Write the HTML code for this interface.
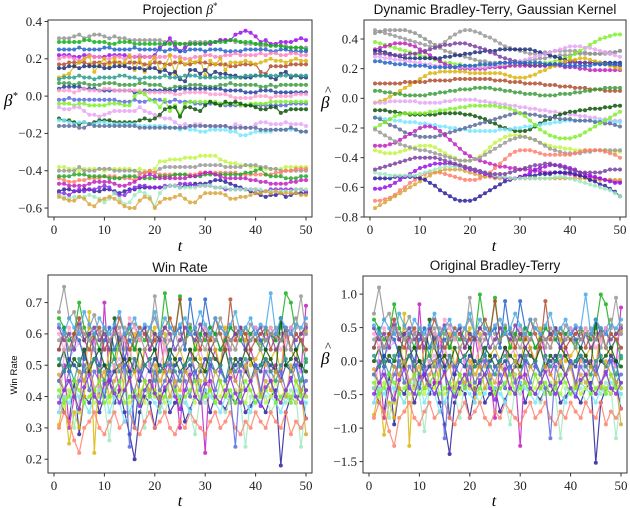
<!DOCTYPE html>
<html><head><meta charset="utf-8">
<style>
body{margin:0;background:#fff;}
svg{display:block;font-family:"Liberation Serif",serif;}
.t{font-family:"Liberation Sans",sans-serif;font-size:13.5px;fill:#111;}
.tk{font-family:"Liberation Serif",serif;font-size:13px;fill:#222;}
.sr{font-family:"Liberation Serif",serif;}
</style></head>
<body>
<svg id="fig" width="630" height="508" viewBox="0 0 630 508">
<text class="t" x="180" y="14" text-anchor="middle">Projection  <tspan class="sr" font-style="italic">β</tspan><tspan class="sr" font-size="9" dy="-5">*</tspan></text>
<text class="t" x="495" y="14" text-anchor="middle">Dynamic Bradley-Terry, Gaussian Kernel</text>
<text class="t" x="180" y="272" text-anchor="middle">Win Rate</text>
<text class="t" x="495" y="270" text-anchor="middle">Original Bradley-Terry</text>
<text class="sr" x="180" y="251" font-size="16" font-style="italic" text-anchor="middle">t</text>
<text class="sr" x="494" y="251" font-size="16" font-style="italic" text-anchor="middle">t</text>
<text class="sr" x="180" y="506" font-size="16" font-style="italic" text-anchor="middle">t</text>
<text class="sr" x="494" y="506" font-size="16" font-style="italic" text-anchor="middle">t</text>
<text class="sr" x="4" y="106" font-size="17" font-style="italic">β<tspan font-size="10" dy="-7">*</tspan></text>
<g><text class="sr" x="321" y="108" font-size="17" font-style="italic">β</text><text class="sr" x="325" y="95" font-size="13">^</text></g>
<g><text class="sr" x="321" y="364" font-size="17" font-style="italic">β</text><text class="sr" x="325" y="351" font-size="13">^</text></g>
<text transform="translate(17,375) rotate(-90)" font-family="Liberation Sans" font-size="9.5" text-anchor="middle">Win Rate</text>
</svg>
<script>
const tValues=[];for(let i=1;i<=50;i++)tValues.push(i);
const colors=["#929591","#9a0eea","#15b01a","#1f63c9","#ff81c0","#b04e2f","#dbb40c","#1c2f7a","#2a9d8f","#3c9d3c","#2340a0","#ff9ecf","#5a6be0","#7ef02a","#e6a6f5","#0b5509","#75e6ff","#5b6b9a","#c4f542","#9a9a9a","#ff7f6a","#27a62b","#c020c0","#2a1f9e","#8a2be2","#9fe8c0","#d9a53a","#7a3fa0","#48a8e8","#a0c080"];
const projSeries=[
[31,31,31,32,33,31,32,33,33,32,31,32,31,31,30,30,30,30,30,30,30,29,29,29,28,28,29,29,29,29,29,29,30,30,30,29,29,28,28,28,27,27,27,27,27,27,26,26,26,26],
[22,22,22,21,21,22,22,21,21,21,22,22,22,22,21,21,21,21,21,22,26,28,31,27,24,26,28,28,28,28,28,29,30,30,30,33,34,35,34,32,29,30,28,28,29,29,29,30,31,30],
[29,29,29,29,29,30,30,29,29,29,28,28,29,29,29,28,28,28,28,28,28,28,28,28,28,28,28,28,28,28,29,29,29,29,30,30,29,29,29,28,28,28,27,27,27,26,26,26,26,25],
[25,25,25,25,26,25,25,25,25,26,26,25,25,25,25,26,25,25,25,25,25,24,25,25,24,24,25,25,25,24,25,25,25,24,24,24,24,25,25,25,25,25,24,24,25,25,24,24,24,24],
[20,21,21,20,19,20,22,21,21,20,20,21,21,20,21,21,22,21,21,20,21,21,22,21,21,20,20,21,21,22,22,21,21,22,22,23,22,22,22,22,23,22,23,23,22,22,23,23,22,22],
[17,17,18,18,18,18,17,18,18,17,18,18,18,17,18,18,18,17,17,18,18,17,17,18,18,17,17,18,18,18,17,17,17,17,16,16,17,17,17,17,13,12,16,16,16,16,17,17,17,17],
[10,11,12,16,18,20,21,13,17,20,16,20,17,18,22,14,20,13,18,21,14,16,22,12,20,17,19,18,20,11,19,17,20,14,18,18,18,19,18,17,18,19,20,19,19,18,19,20,19,19],
[15,15,16,16,15,16,16,16,16,15,15,16,16,16,15,15,15,14,15,15,13,14,12,13,9,8,14,14,12,14,11,13,12,12,11,11,10,10,10,11,11,11,10,9,12,13,10,11,10,10],
[9,10,10,10,11,10,10,9,10,10,10,10,11,11,10,10,9,10,10,10,10,11,10,10,10,11,11,11,10,10,10,10,10,10,10,10,10,11,11,11,11,11,11,11,11,11,11,11,11,11],
[7,7,7,6,7,7,6,6,6,7,7,7,6,6,6,6,7,7,6,6,6,4,4,5,5,5,6,6,6,5,5,5,6,6,7,6,6,6,6,6,5,5,6,5,6,6,6,6,6,6],
[4,5,5,5,5,4,4,4,3,3,3,3,3,3,3,2,2,3,3,3,3,3,3,3,4,4,4,4,4,4,4,4,4,3,3,3,3,2,2,2,3,3,3,2,2,2,2,2,2,2],
[3,3,3,2,3,4,3,3,3,4,4,3,3,3,3,3,3,2,2,2,2,2,2,1,1,2,2,2,2,2,1,1,1,1,0,-1,-1,-1,-1,0,0,0,-1,0,0,0,0,1,1,1],
[-2,-2,-1,-2,-2,-2,-2,-2,-2,-2,-2,-2,-3,-3,-3,-2,-3,-3,-2,-2,-2,-3,-3,-2,-3,-3,-3,-4,-4,-4,-4,-4,-4,-5,-5,-5,-5,-5,-5,-5,-5,-5,-5,-5,-5,-5,-4,-4,-4,-4],
[-4,-4,-4,-5,-4,-4,-5,-5,-5,-5,-4,-4,-4,-5,-5,0,2,1,-2,-3,-6,-2,-8,-5,-10,-4,-3,-3,-3,-3,-3,-3,-4,-4,-4,-4,-5,-5,-4,-4,-4,-4,-3,-3,-3,-3,-3,-3,-3,-3],
[-6,-7,-7,-6,-6,-8,-10,-10,-11,-10,-9,-8,-8,-8,-8,-8,-6,-8,-9,-10,-11,-12,-12,-14,-16,-15,-16,-15,-15,-16,-16,-17,-16,-16,-17,-15,-16,-17,-17,-15,-14,-14,-15,-15,-15,-14,-15,-15,-15,-16],
[-12,-13,-13,-14,-15,-14,-15,-14,-13,-13,-13,-14,-14,-14,-14,-14,-13,-12,-13,-12,-10,-7,-6,-6,-11,-6,-6,-7,-8,-5,-3,-4,-5,-3,-4,-3,-4,-5,-5,-6,-7,-7,-6,-6,-9,-8,-7,-7,-7,-7],
[-13,-13,-14,-15,-14,-14,-15,-15,-14,-14,-15,-15,-15,-15,-15,-15,-16,-16,-16,-16,-16,-16,-17,-17,-18,-17,-18,-18,-19,-19,-18,-18,-18,-18,-19,-19,-21,-21,-20,-19,-19,-19,-19,-18,-18,-18,-18,-18,-19,-19],
[-16,-16,-16,-16,-17,-17,-15,-16,-16,-16,-16,-16,-16,-16,-16,-16,-17,-17,-17,-17,-17,-17,-17,-17,-17,-17,-16,-16,-16,-16,-16,-16,-16,-16,-17,-17,-17,-17,-17,-17,-18,-18,-18,-18,-18,-18,-17,-18,-19,-19],
[-38,-38,-39,-39,-40,-39,-39,-39,-39,-40,-39,-39,-39,-39,-39,-40,-39,-40,-40,-39,-35,-35,-34,-34,-34,-33,-33,-33,-32,-32,-32,-32,-34,-35,-36,-36,-37,-37,-38,-38,-39,-39,-39,-39,-39,-38,-38,-38,-38,-38],
[-40,-40,-40,-40,-38,-40,-40,-40,-39,-39,-39,-40,-40,-40,-40,-40,-41,-41,-41,-41,-39,-38,-38,-38,-38,-38,-38,-38,-37,-37,-37,-37,-37,-38,-38,-38,-38,-37,-37,-37,-38,-38,-39,-39,-40,-40,-40,-40,-40,-40],
[-44,-45,-46,-46,-45,-45,-44,-44,-44,-43,-43,-43,-44,-44,-44,-45,-42,-41,-40,-41,-42,-42,-42,-42,-42,-42,-42,-42,-41,-41,-41,-41,-41,-41,-41,-41,-42,-42,-42,-42,-42,-42,-42,-41,-41,-40,-40,-39,-39,-39],
[-43,-43,-43,-42,-42,-42,-43,-43,-43,-43,-44,-44,-44,-43,-43,-43,-44,-44,-44,-44,-43,-43,-43,-42,-42,-42,-43,-43,-43,-42,-42,-42,-42,-42,-42,-42,-42,-41,-41,-40,-39,-42,-43,-43,-43,-44,-44,-44,-43,-43],
[-47,-47,-48,-48,-48,-48,-47,-46,-46,-46,-46,-47,-48,-48,-47,-46,-44,-43,-42,-43,-44,-44,-44,-44,-44,-44,-43,-43,-42,-41,-41,-42,-43,-44,-44,-44,-44,-44,-45,-45,-46,-46,-47,-47,-47,-47,-46,-46,-45,-45],
[-51,-50,-50,-51,-51,-50,-50,-51,-51,-50,-50,-51,-52,-51,-50,-50,-49,-49,-49,-49,-49,-49,-48,-48,-49,-48,-48,-47,-47,-47,-46,-45,-45,-46,-47,-48,-49,-50,-51,-52,-53,-54,-53,-53,-52,-54,-53,-52,-52,-52],
[-52,-52,-53,-51,-50,-51,-50,-50,-49,-48,-49,-52,-53,-53,-51,-49,-48,-48,-49,-49,-49,-48,-48,-48,-47,-47,-47,-48,-48,-48,-48,-49,-49,-50,-50,-50,-50,-50,-50,-50,-51,-51,-50,-50,-50,-50,-50,-50,-50,-51],
[-53,-54,-55,-54,-54,-54,-53,-54,-55,-57,-55,-52,-55,-58,-57,-53,-51,-52,-54,-59,-52,-49,-48,-48,-49,-49,-49,-49,-48,-48,-48,-49,-49,-49,-50,-50,-50,-50,-50,-50,-50,-51,-51,-51,-51,-51,-51,-50,-50,-50],
[-54,-55,-56,-56,-54,-55,-58,-59,-56,-55,-54,-55,-57,-59,-60,-60,-56,-54,-55,-60,-57,-55,-55,-54,-53,-55,-57,-57,-54,-52,-52,-52,-52,-53,-55,-55,-54,-54,-53,-52,-52,-51,-52,-51,-52,-52,-52,-52,-53,-53]
];
const projColors=[0,1,2,3,4,5,6,7,8,9,10,11,12,13,14,15,16,17,18,19,20,21,22,23,24,25,26];
const dbtSeries=[
[46,45,44,43,42,41,40,39,38,37,36,35,35,36,38,41,43,45,46,46,45,44,42,41,39,37,35,34,33,32,31,30,30,30,31,31,32,32,32,32,32,31,31,30,30,30,30,30,31,32],
[44,45,46,46,46,46,46,45,44,42,40,38,36,34,32,31,30,29,28,27,26,25,25,24,24,24,24,24,25,25,25,26,26,27,27,28,28,29,29,29,30,30,30,30,30,30,31,31,31,32],
[38,37,36,35,34,33,32,31,30,29,28,27,26,25,24,24,23,23,22,22,22,22,22,22,22,22,22,22,23,23,23,23,23,23,24,24,25,26,27,28,30,32,34,36,38,40,41,42,43,43],
[33,34,35,36,37,37,37,36,35,33,31,29,27,25,23,22,21,20,20,20,20,20,20,21,21,21,21,22,22,22,22,22,22,22,22,22,22,22,21,21,21,20,20,19,19,19,19,19,19,19],
[32,32,31,30,29,28,27,27,27,27,27,27,27,27,28,28,29,29,30,30,31,31,32,32,32,33,33,33,33,33,33,33,32,31,30,29,28,27,26,25,25,24,24,24,24,24,24,24,24,24],
[30,30,30,29,29,29,29,30,30,31,32,33,34,35,36,36,37,37,37,36,35,34,33,31,30,28,27,26,25,24,23,22,22,22,22,23,23,23,24,24,24,24,24,24,24,23,23,23,22,22],
[28,28,27,27,26,26,25,25,24,24,23,23,22,22,21,21,21,21,21,21,21,21,21,22,22,23,23,24,24,25,26,27,28,29,30,31,32,33,34,35,35,35,34,34,33,32,31,30,29,28],
[-3,-2,-1,1,3,5,7,9,11,13,15,17,17,18,18,18,18,18,18,17,17,17,17,17,17,17,16,15,14,14,14,15,16,18,19,21,22,24,25,26,26,27,27,26,25,24,23,22,21,20],
[25,25,24,24,23,23,23,22,22,22,22,21,21,21,21,21,21,22,22,22,22,23,23,23,23,24,24,24,24,24,24,24,24,24,23,23,23,23,22,22,22,22,22,22,23,23,23,23,23,23],
[10,10,10,10,10,10,11,11,11,11,11,12,12,12,12,12,13,13,13,13,13,13,13,13,12,12,12,11,11,11,10,10,10,10,9,9,9,8,8,8,7,7,7,6,6,6,5,5,5,5],
[5,5,4,4,3,3,2,2,2,2,2,3,3,4,4,5,5,6,6,6,7,7,7,7,6,6,5,5,4,4,3,3,3,2,2,2,2,3,3,3,4,4,5,5,6,6,7,7,7,7],
[-3,-3,-3,-2,-2,-2,-2,-2,-2,-3,-3,-3,-3,-3,-2,-2,-1,-1,-1,-1,-1,-2,-2,-3,-3,-4,-4,-5,-5,-6,-6,-7,-7,-8,-8,-9,-9,-10,-10,-11,-11,-12,-12,-13,-13,-14,-14,-15,-15,-15],
[-8,-8,-8,-9,-9,-10,-10,-11,-11,-11,-11,-11,-11,-10,-10,-10,-10,-10,-11,-11,-12,-13,-14,-16,-17,-19,-20,-21,-22,-22,-22,-21,-19,-17,-15,-14,-12,-11,-10,-9,-9,-8,-8,-7,-7,-7,-6,-6,-5,-5],
[-13,-13,-14,-14,-15,-15,-16,-16,-16,-17,-17,-18,-18,-19,-19,-20,-20,-21,-21,-22,-22,-22,-22,-22,-22,-21,-21,-21,-20,-20,-19,-19,-18,-18,-17,-17,-16,-16,-15,-15,-15,-15,-15,-15,-15,-15,-15,-16,-16,-16],
[-13,-14,-16,-18,-19,-21,-23,-24,-25,-26,-26,-26,-26,-25,-24,-23,-22,-21,-20,-19,-18,-17,-16,-15,-14,-13,-12,-11,-10,-10,-10,-11,-11,-12,-12,-13,-13,-14,-14,-14,-15,-15,-15,-15,-16,-16,-17,-17,-18,-19],
[-32,-32,-32,-31,-30,-28,-26,-24,-22,-20,-19,-19,-20,-22,-25,-28,-31,-34,-37,-39,-41,-42,-43,-44,-45,-46,-46,-47,-47,-48,-48,-48,-49,-49,-50,-50,-50,-50,-51,-51,-52,-52,-53,-53,-54,-54,-55,-55,-56,-56],
[-20,-18,-16,-14,-12,-11,-10,-10,-10,-10,-10,-9,-9,-8,-8,-7,-7,-6,-6,-5,-5,-5,-5,-5,-5,-6,-6,-7,-8,-10,-12,-15,-18,-21,-23,-25,-26,-27,-27,-27,-26,-25,-23,-21,-19,-17,-15,-13,-11,-9],
[-35,-36,-37,-37,-37,-36,-35,-34,-33,-32,-32,-32,-33,-35,-37,-39,-40,-42,-42,-42,-41,-39,-36,-33,-30,-28,-26,-25,-25,-25,-26,-27,-28,-30,-31,-32,-33,-33,-34,-34,-35,-35,-35,-35,-35,-35,-35,-36,-36,-36],
[-21,-23,-25,-27,-29,-31,-32,-33,-34,-35,-35,-36,-37,-38,-39,-40,-41,-42,-42,-42,-41,-40,-38,-36,-34,-32,-30,-28,-27,-26,-26,-27,-28,-30,-32,-34,-35,-36,-37,-37,-37,-37,-36,-36,-35,-35,-35,-35,-35,-35],
[-69,-69,-68,-67,-65,-62,-60,-57,-55,-53,-51,-50,-50,-50,-51,-52,-53,-54,-55,-55,-55,-54,-52,-50,-47,-44,-41,-38,-36,-35,-35,-35,-36,-37,-38,-38,-38,-38,-38,-38,-37,-36,-35,-35,-35,-35,-36,-37,-38,-40],
[-74,-72,-70,-68,-66,-64,-62,-60,-58,-56,-54,-52,-50,-49,-48,-48,-48,-48,-49,-50,-51,-52,-53,-53,-54,-54,-54,-54,-54,-54,-54,-54,-54,-54,-54,-54,-54,-54,-54,-54,-54,-54,-54,-55,-55,-55,-55,-55,-55,-55],
[-54,-54,-54,-54,-53,-53,-53,-53,-53,-54,-55,-57,-59,-62,-64,-66,-68,-69,-69,-69,-68,-66,-64,-62,-60,-58,-56,-55,-54,-53,-52,-52,-52,-51,-51,-51,-50,-50,-50,-50,-51,-52,-53,-55,-56,-58,-59,-61,-63,-66],
[-61,-61,-60,-59,-57,-55,-53,-51,-49,-47,-46,-45,-44,-44,-44,-44,-45,-46,-47,-48,-49,-50,-51,-52,-53,-53,-54,-54,-54,-53,-52,-50,-48,-47,-46,-45,-45,-45,-46,-47,-48,-50,-51,-52,-53,-54,-55,-56,-57,-57],
[-50,-51,-51,-52,-52,-52,-52,-52,-52,-51,-50,-49,-48,-47,-46,-46,-46,-46,-46,-47,-48,-49,-50,-51,-52,-53,-53,-54,-54,-54,-54,-54,-54,-54,-54,-54,-53,-53,-53,-54,-55,-56,-57,-58,-59,-60,-61,-62,-64,-66],
[-48,-47,-46,-45,-44,-43,-42,-41,-40,-40,-40,-40,-40,-41,-42,-43,-44,-45,-46,-47,-48,-49,-50,-51,-51,-51,-51,-50,-49,-48,-47,-46,-45,-45,-44,-44,-45,-46,-47,-48,-49,-50,-50,-50,-50,-50,-49,-48,-48,-48]
];
const dbtColors=[19,0,13,22,7,27,14,6,3,5,9,14,15,16,17,22,13,18,19,20,26,23,1,25,27];
const winRateSeries=[
[67,75,65,67,60,58,62,66,60,55,58,60,62,55,60,63,58,60,62,65,60,55,58,62,60,57,63,55,60,62,58,60,65,60,55,62,60,58,63,60,57,60,62,58,60,55,62,65,60,63],
[40,35,32,45,28,40,38,42,35,40,45,38,42,35,28,20,35,40,38,30,40,42,35,38,40,32,36,40,38,42,35,40,38,36,40,38,42,35,37,40,38,35,40,42,18,35,40,38,42,33],
[45,50,30,40,35,55,48,60,40,70,45,50,42,60,48,52,45,55,50,40,60,48,52,45,30,50,55,48,45,22,50,55,48,60,52,45,50,48,55,50,40,52,48,50,45,60,55,52,48,69],
[31,40,25,35,30,40,67,22,50,45,55,48,58,45,52,60,48,55,58,62,35,60,48,52,55,50,45,58,52,48,60,55,50,62,58,55,60,58,50,52,55,50,52,55,48,62,55,52,60,61],
[35,53,52,55,57,55,50,43,43,43,45,50,52,48,55,50,48,45,50,52,50,55,50,48,45,50,48,52,55,50,52,48,50,45,50,48,52,50,45,47,50,52,45,48,50,52,48,50,48,55],
[55,62,50,60,58,52,60,55,50,58,62,55,60,52,58,55,60,62,58,55,60,58,52,60,62,55,71,60,58,71,62,60,55,58,62,60,58,55,60,62,58,55,60,58,65,60,62,55,58,60],
[65,62,58,60,70,62,58,60,55,62,58,52,60,58,62,55,60,58,62,60,58,73,62,60,72,58,62,55,60,58,62,60,55,58,62,60,58,62,60,58,55,62,60,58,62,73,70,60,58,51],
[45,48,52,50,48,45,50,52,48,50,45,48,50,52,48,30,45,50,48,52,50,48,45,50,52,48,50,45,48,52,50,48,50,45,48,50,52,48,45,50,48,52,50,48,45,50,48,52,50,40],
[40,38,42,30,40,38,35,40,42,38,26,40,38,42,35,40,38,30,42,40,38,35,40,42,38,40,35,28,40,38,42,40,38,35,40,42,38,24,40,38,42,40,35,38,40,38,42,40,24,38],
[30,35,32,26,22,30,32,35,30,28,32,35,30,32,35,30,28,32,35,30,32,35,30,28,32,30,35,32,30,28,32,35,30,32,35,30,28,32,30,35,32,30,35,32,30,35,28,32,30,33],
[50,55,48,52,50,55,48,52,55,50,48,65,55,50,52,48,55,50,52,55,48,50,55,52,48,50,55,52,50,48,55,52,50,55,48,52,50,55,52,48,50,55,52,48,65,50,52,55,50,48],
[60,55,62,58,65,60,58,62,60,55,58,62,60,58,65,62,58,60,62,58,60,55,62,60,58,62,60,58,55,62,60,58,62,60,58,55,62,60,58,62,60,58,62,60,55,58,62,60,58,60],
[35,40,38,42,40,38,35,40,38,42,35,40,38,32,35,40,38,42,40,38,35,40,38,42,40,38,35,40,38,42,40,38,35,40,38,42,40,38,35,40,38,42,40,38,35,40,38,42,40,38],
[45,37,42,40,35,45,42,38,40,45,38,42,40,45,38,40,42,38,45,40,42,38,40,45,38,42,40,38,45,40,42,38,40,45,38,42,40,38,45,40,42,38,40,45,38,42,40,38,45,40],
[55,60,55,60,65,58,55,60,62,55,58,60,65,60,55,58,62,60,55,58,60,62,65,60,71,58,60,62,55,60,58,65,60,55,71,58,62,60,55,58,60,62,55,60,58,62,55,60,58,55],
[62,58,60,55,63,58,60,62,58,60,55,62,58,60,63,58,60,62,55,60,58,62,60,55,58,62,60,58,63,60,55,58,62,60,58,60,62,55,58,60,62,58,60,55,58,62,60,58,60,62],
[52,48,50,45,52,48,50,52,48,45,50,52,48,50,45,52,48,50,52,45,48,50,52,48,45,50,52,48,50,45,52,48,50,45,52,48,50,52,45,48,50,52,48,45,50,52,48,50,45,52],
[45,42,48,40,45,50,42,48,45,40,48,42,45,50,24,42,48,45,40,48,42,45,50,42,48,45,40,48,42,45,50,42,48,45,40,24,48,42,45,50,42,48,45,40,48,42,45,50,42,45],
[58,60,55,58,62,60,58,55,60,62,58,60,55,62,60,58,60,55,58,72,60,58,62,60,55,58,60,62,58,55,60,58,62,60,58,55,60,62,58,60,55,58,60,62,58,60,55,62,72,60],
[47,42,45,40,48,45,50,42,45,48,40,45,50,42,45,48,40,45,42,50,45,48,40,45,42,48,45,40,50,45,42,48,45,40,48,45,42,50,45,48,40,45,42,48,45,40,50,45,42,28],
[42,38,40,45,42,38,40,42,45,38,40,42,45,38,40,42,38,45,40,42,38,40,45,42,38,40,42,45,38,40,42,38,45,40,42,38,40,45,42,38,40,42,45,38,40,42,38,45,40,42],
[38,42,45,40,36,43,47,40,38,44,45,41,38,42,46,40,37,42,45,41,38,43,45,40,36,42,47,40,38,44,45,40,38,42,46,41,38,42,45,40,37,43,45,40,38,42,46,40,38,42],
[63,60,65,62,60,67,63,60,65,62,60,63,67,60,62,65,60,63,62,67,60,65,62,60,63,65,60,62,67,63,60,65,62,60,63,67,60,62,65,60,63,62,73,60,65,62,60,63,62,65]
];
const winColors=[0,23,22,6,14,3,2,10,25,20,15,11,16,18,5,27,8,12,19,26,13,24,28];
const tlTicks=[0.4,0.2,0.0,-0.2,-0.4,-0.6];
const trTicks=[0.4,0.2,0.0,-0.2,-0.4,-0.6,-0.8];
const blTicks=[0.7,0.6,0.5,0.4,0.3,0.2];
const brTicks=[1.0,0.5,0.0,-0.5,-1.0,-1.5];
const xTicks=[0,10,20,30,40,50];

const NS="http://www.w3.org/2000/svg";
const svg=document.getElementById('fig');
function mk(tag,attrs,parent){const e=document.createElementNS(NS,tag);for(const k in attrs)e.setAttribute(k,attrs[k]);(parent||svg).appendChild(e);return e;}
function fmt(v,d){const s=Math.abs(v).toFixed(d);return (v<-1e-9?'\u2212':'')+s;}
function panel(name,box,yDom,yTicks,dec,series,cIdx,tf){
  const [L,T,R,B]=box;
  const xs=t=>L+6+t*(R-L-12)/50;
  const ys=v=>T+(yDom[0]-v)/(yDom[0]-yDom[1])*(B-T);
  const g=mk('g',{});
  
  
  const cp=mk('clipPath',{id:name+'-clip'},g);mk('rect',{x:L,y:T,width:R-L,height:B-T},cp);
  const plot=mk('g',{'clip-path':'url(#'+name+'-clip)'},g);
  series.forEach((s,i)=>{
    const col=colors[cIdx[i]%colors.length];
    const sg=mk('g',{opacity:0.85},plot);
    
    
    const pts=s.map((v,j)=>[xs(tValues[j]),ys(tf(v))]);
    mk('polyline',{points:pts.map(p=>p[0].toFixed(1)+','+p[1].toFixed(1)).join(' '),fill:'none',stroke:col,'stroke-width':1.2},sg);
    pts.forEach(p=>{const c=mk('circle',{cx:p[0].toFixed(1),cy:p[1].toFixed(1),r:2,fill:col},sg);
      
      });
  });
  const fr=mk('rect',{x:L,y:T,width:R-L,height:B-T,fill:'none',stroke:'#333','stroke-width':1},g);
  
  
  yTicks.forEach(v=>{const y=ys(v);mk('line',{x1:L-3.5,x2:L,y1:y,y2:y,stroke:'#333'},g);
    const tx=mk('text',{x:L-6,y:y+4.3,'text-anchor':'end',class:'tk','font-family':'Liberation Serif, serif'},g);tx.textContent=fmt(v,dec);
    
    });
  xTicks.forEach(t=>{const x=xs(t);mk('line',{x1:x,x2:x,y1:B,y2:B+3.5,stroke:'#333'},g);
    const tx=mk('text',{x:x,y:B+17,'text-anchor':'middle',class:'tk','font-family':'Liberation Serif, serif'},g);tx.textContent=t;
    
    });
}
const pct=v=>v/100;
const logit=v=>{const w=v/100;return Math.log(w/(1-w));};
panel('projection',[48,20,312,217],[0.408,-0.648],tlTicks,1,projSeries,projColors,pct);
panel('dynamic-bt',[364,20,626,217],[0.528,-0.8],trTicks,1,dbtSeries,dbtColors,pct);
panel('win-rate',[48,275,312,473],[0.788,0.156],blTicks,1,winRateSeries,winColors,pct);
panel('original-bt',[363,276,627,473],[1.27,-1.67],brTicks,1,winRateSeries,winColors,logit);
</script>
</body></html>
